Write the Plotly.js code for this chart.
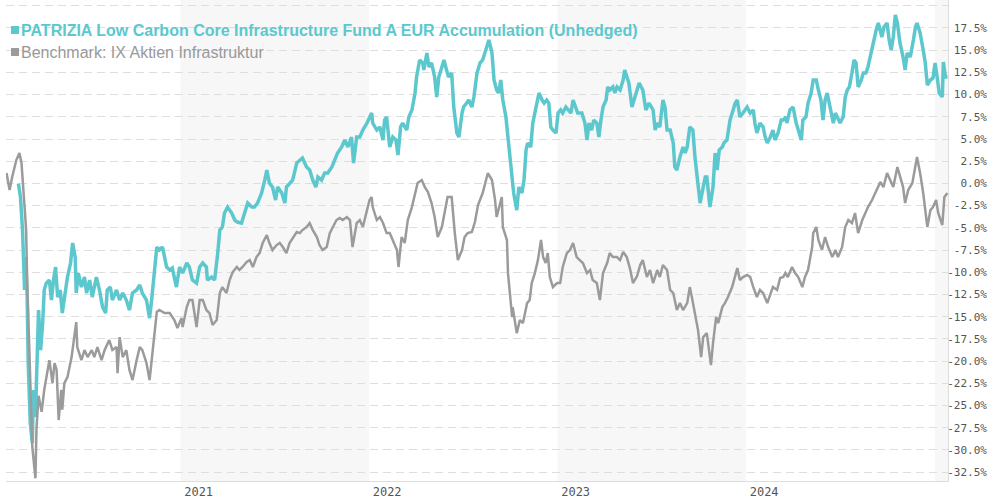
<!DOCTYPE html>
<html>
<head>
<meta charset="utf-8">
<script src="https://cdn.plot.ly/plotly-3.0.1.min.js"></script>
<style>html,body{margin:0;padding:0;background:#fff;}#chart{width:990px;height:500px;}</style>
</head>
<body>
<div id="chart"></div>
<script>
const fundName = "PATRIZIA Low Carbon Core Infrastructure Fund A EUR Accumulation (Unhedged)";
const benchName = "Benchmark: IX Aktien Infrastruktur";

const fundDates = [
"2020-02-22","2020-02-26","2020-03-01","2020-03-03","2020-03-05","2020-03-07","2020-03-10","2020-03-12","2020-03-16","2020-03-20",
"2020-03-22","2020-03-26","2020-03-30","2020-04-01","2020-04-05","2020-04-09","2020-04-12","2020-04-16","2020-04-22","2020-04-26",
"2020-04-30","2020-05-04","2020-05-08","2020-05-13","2020-05-17","2020-05-23","2020-05-27","2020-06-02","2020-06-06","2020-06-11",
"2020-06-13","2020-06-17","2020-06-23","2020-06-29","2020-07-03","2020-07-09","2020-07-14","2020-07-22","2020-07-28","2020-08-03",
"2020-08-09","2020-08-12","2020-08-18","2020-08-22","2020-08-30","2020-09-05","2020-09-11","2020-09-18","2020-09-24","2020-09-30",
"2020-10-08","2020-10-14","2020-10-19","2020-10-27","2020-11-02","2020-11-06","2020-11-10","2020-11-12","2020-11-16","2020-11-21",
"2020-11-27","2020-12-05","2020-12-11","2020-12-16","2020-12-24","2020-12-30","2021-01-05","2021-01-13","2021-01-18","2021-01-24",
"2021-02-01","2021-02-07","2021-02-13","2021-02-20","2021-02-22","2021-03-02","2021-03-08","2021-03-14","2021-03-18","2021-03-23",
"2021-03-27","2021-04-02","2021-04-10","2021-04-16","2021-04-21","2021-04-29","2021-05-05","2021-05-11","2021-05-19","2021-05-24",
"2021-05-30","2021-06-07","2021-06-13","2021-06-17","2021-06-22","2021-06-28","2021-07-04","2021-07-08","2021-07-16","2021-07-22",
"2021-07-25","2021-07-31","2021-08-06","2021-08-14","2021-08-20","2021-08-25","2021-09-02","2021-09-08","2021-09-14","2021-09-20",
"2021-09-24","2021-10-01","2021-10-07","2021-10-13","2021-10-21","2021-10-26","2021-11-01","2021-11-09","2021-11-15","2021-11-21",
"2021-11-28","2021-12-02","2021-12-08","2021-12-14","2021-12-20","2021-12-28","2021-12-31","2022-01-06","2022-01-08","2022-01-16",
"2022-01-22","2022-01-28","2022-01-31","2022-02-04","2022-02-10","2022-02-16","2022-02-22","2022-02-26","2022-03-03","2022-03-07",
"2022-03-15","2022-03-19","2022-03-25","2022-03-31","2022-04-03","2022-04-09","2022-04-15","2022-04-17","2022-04-23","2022-04-27",
"2022-05-02","2022-05-08","2022-05-12","2022-05-16","2022-05-22","2022-05-26","2022-05-31","2022-06-04","2022-06-10","2022-06-14",
"2022-06-20","2022-06-24","2022-06-30","2022-07-03","2022-07-09","2022-07-13","2022-07-19","2022-07-23","2022-07-29","2022-08-04",
"2022-08-09","2022-08-13","2022-08-17","2022-08-21","2022-08-27","2022-08-31","2022-09-05","2022-09-09","2022-09-13","2022-09-17",
"2022-09-23","2022-09-27","2022-10-02","2022-10-06","2022-10-08","2022-10-14","2022-10-18","2022-10-24","2022-10-28","2022-11-01",
"2022-11-04","2022-11-10","2022-11-14","2022-11-18","2022-11-22","2022-11-26","2022-12-02","2022-12-06","2022-12-11","2022-12-15",
"2022-12-19","2022-12-23","2022-12-29","2023-01-02","2023-01-07","2023-01-11","2023-01-17","2023-01-21","2023-01-27","2023-01-31",
"2023-02-05","2023-02-09","2023-02-17","2023-02-23","2023-02-27","2023-03-03","2023-03-08","2023-03-12","2023-03-18","2023-03-22",
"2023-03-26","2023-03-30","2023-04-05","2023-04-08","2023-04-12","2023-04-18","2023-04-22","2023-04-26","2023-05-02","2023-05-08",
"2023-05-11","2023-05-15","2023-05-19","2023-05-25","2023-05-29","2023-06-02","2023-06-08","2023-06-15","2023-06-21","2023-06-27",
"2023-07-05","2023-07-09","2023-07-13","2023-07-18","2023-07-24","2023-07-28","2023-08-01","2023-08-07","2023-08-13","2023-08-16",
"2023-08-20","2023-08-26","2023-09-01","2023-09-05","2023-09-09","2023-09-14","2023-09-20","2023-09-24","2023-09-28","2023-09-30",
"2023-10-04","2023-10-10","2023-10-14","2023-10-17","2023-10-23","2023-10-29","2023-11-02","2023-11-06","2023-11-10","2023-11-16",
"2023-11-19","2023-11-25","2023-12-01","2023-12-07","2023-12-11","2023-12-15","2023-12-20","2023-12-26","2024-01-03","2024-01-09",
"2024-01-15","2024-01-18","2024-01-22","2024-01-28","2024-02-03","2024-02-07","2024-02-11","2024-02-17","2024-02-22","2024-02-26",
"2024-03-03","2024-03-09","2024-03-13","2024-03-18","2024-03-20","2024-03-26","2024-04-01","2024-04-07","2024-04-11","2024-04-17",
"2024-04-20","2024-04-26","2024-04-30","2024-05-06","2024-05-10","2024-05-16","2024-05-20","2024-05-25","2024-05-29","2024-06-02",
"2024-06-06","2024-06-12","2024-06-18","2024-06-22","2024-06-25","2024-07-01","2024-07-07","2024-07-11","2024-07-15","2024-07-19",
"2024-07-24","2024-07-28","2024-08-01","2024-08-05","2024-08-11","2024-08-15","2024-08-20","2024-08-24","2024-08-30","2024-09-03",
"2024-09-09","2024-09-13","2024-09-17","2024-09-20","2024-09-24","2024-09-30","2024-10-04","2024-10-08","2024-10-12","2024-10-16",
"2024-10-20","2024-10-25","2024-10-31","2024-11-04","2024-11-08","2024-11-14","2024-11-20","2024-11-24","2024-11-27","2024-12-03",
"2024-12-09","2024-12-13","2024-12-17","2024-12-23","2024-12-28","2025-01-01","2025-01-05","2025-01-09","2025-01-15","2025-01-17",
"2025-01-21","2025-01-25"
];
const fundValues = [
0,-1.53,-5.25,-8.96,-12.0,-8.29,-12.79,-20.22,-26.98,-29.23,
-23.26,-26.30,-17.97,-14.26,-18.76,-15.72,-12.0,-11.22,-10.88,-13.13,
-10.88,-9.41,-12.79,-12.0,-14.59,-12.34,-10.54,-8.96,-6.71,-8.29,
-12.34,-10.09,-11.67,-10.54,-12.34,-10.88,-12.79,-10.54,-12.0,-13.92,
-14.59,-12.0,-11.67,-13.13,-12.0,-13.13,-12.34,-13.13,-14.26,-12.34,
-12.0,-11.44,-12.34,-13.13,-15.16,-13.13,-10.88,-8.96,-7.16,-7.50,
-7.16,-9.41,-9.75,-9.53,-11.67,-9.41,-10.09,-8.96,-9.41,-10.88,
-11.22,-9.41,-8.96,-9.41,-10.88,-10.54,-10.88,-7.84,-5.25,-4.91,
-3.33,-2.66,-3.33,-4.12,-4.35,-4.46,-3.33,-2.21,-2.66,-2.66,
-2.21,-1.08,0.38,1.51,0.05,-0.41,-1.87,-0.41,-1.08,-2.21,
-0.41,0.05,0.38,2.30,2.63,2.86,1.85,1.51,0.38,-0.41,
0.72,0.38,1.17,1.17,1.85,2.63,3.42,4.10,4.89,4.10,
5.22,2.30,5.22,5.22,6.01,6.80,7.14,7.93,6.80,6.01,
6.35,4.89,7.14,7.48,4.10,5.22,4.89,3.20,6.35,6.80,
6.01,7.48,8.27,10.18,11.98,13.90,13.56,12.77,14.68,13.11,
13.56,11.98,9.73,11.98,13.11,13.90,12.77,11.98,12.43,8.60,
5.68,5.22,7.93,8.60,9.05,9.39,8.60,9.73,12.43,13.56,
13.90,14.68,15.36,16.15,14.68,11.64,10.52,10.18,11.64,9.39,
7.48,4.89,1.85,0.05,-1.08,-3.0,-0.41,-1.08,0.38,3.76,
4.55,4.10,6.80,7.93,9.39,10.18,9.39,9.05,9.39,9.05,
6.35,6.01,5.68,7.93,8.27,7.93,8.60,8.27,7.93,9.39,
8.60,7.93,7.93,6.80,4.89,6.80,6.01,7.14,6.80,5.22,
7.14,8.60,9.39,10.86,10.52,10.86,10.18,10.86,10.52,11.64,
12.77,11.98,11.31,8.60,9.39,10.18,11.31,10.52,8.27,9.05,
8.27,6.01,6.80,6.35,9.39,8.60,6.01,6.01,4.55,1.85,
1.51,2.97,4.10,3.42,4.10,6.35,6.01,2.97,0.72,-0.41,
-2.21,-0.41,0.72,0.72,-2.66,-0.41,3.42,1.51,3.76,4.10,
4.55,4.89,7.14,8.27,9.05,9.39,7.48,7.93,8.60,7.93,
8.27,6.80,5.68,6.80,6.35,5.22,4.55,5.22,6.01,4.89,
5.68,7.14,7.14,7.48,6.80,8.27,8.60,6.80,6.01,4.89,
7.14,7.48,9.05,10.18,11.64,11.64,10.52,9.39,7.14,9.39,
10.18,8.60,6.80,7.93,7.48,6.80,7.48,9.73,10.52,10.86,
12.43,13.90,13.56,10.86,11.64,12.43,12.43,13.11,14.68,15.81,
17.27,18.06,17.27,16.49,17.61,18.06,16.15,15.02,16.49,18.96,
18.06,15.81,14.23,12.77,14.68,14.23,16.15,17.61,18.06,16.94,
15.02,13.56,11.08,11.64,11.87,13.56,11.98,10.18,9.73,13.67,
11.98,11.98
];

const benchDates = [
"2020-01-30","2020-02-05","2020-02-10","2020-02-18","2020-02-24","2020-02-28","2020-03-05","2020-03-08","2020-03-10","2020-03-14",
"2020-03-18","2020-03-20","2020-03-26","2020-03-28","2020-04-01","2020-04-07","2020-04-12","2020-04-18","2020-04-22","2020-04-28",
"2020-05-02","2020-05-06","2020-05-10","2020-05-15","2020-05-17","2020-05-21","2020-05-27","2020-06-04","2020-06-10","2020-06-13",
"2020-06-15","2020-06-23","2020-06-29","2020-07-05","2020-07-13","2020-07-18","2020-07-24","2020-08-01","2020-08-07","2020-08-16",
"2020-08-22","2020-08-30","2020-09-01","2020-09-05","2020-09-11","2020-09-18","2020-09-24","2020-09-30","2020-10-08","2020-10-14",
"2020-10-19","2020-10-27","2020-11-02","2020-11-08","2020-11-16","2020-11-21","2020-12-01","2020-12-11","2020-12-20","2020-12-26",
"2021-01-03","2021-01-05","2021-01-13","2021-01-18","2021-01-24","2021-02-01","2021-02-07","2021-02-13","2021-02-20","2021-02-26",
"2021-03-04","2021-03-12","2021-03-18","2021-03-23","2021-03-31","2021-04-06","2021-04-12","2021-04-20","2021-04-25","2021-05-01",
"2021-05-09","2021-05-15","2021-05-21","2021-05-28","2021-06-03","2021-06-09","2021-06-17","2021-06-22","2021-06-28","2021-07-06",
"2021-07-12","2021-07-18","2021-07-25","2021-07-31","2021-08-06","2021-08-14","2021-08-20","2021-08-25","2021-09-02","2021-09-08",
"2021-09-14","2021-09-22","2021-09-27","2021-10-03","2021-10-11","2021-10-17","2021-10-23","2021-10-30","2021-11-05","2021-11-11",
"2021-11-19","2021-11-25","2021-11-30","2021-12-08","2021-12-14","2021-12-20","2021-12-28","2022-01-02","2022-01-06","2022-01-08",
"2022-01-16","2022-01-22","2022-01-28","2022-02-04","2022-02-10","2022-02-16","2022-02-24","2022-02-27","2022-03-05","2022-03-11",
"2022-03-17","2022-03-25","2022-03-31","2022-04-05","2022-04-13","2022-04-19","2022-04-25","2022-05-02","2022-05-08","2022-05-14",
"2022-05-22","2022-05-28","2022-06-02","2022-06-10","2022-06-16","2022-06-22","2022-06-30","2022-07-05","2022-07-11","2022-07-19",
"2022-07-25","2022-07-31","2022-08-04","2022-08-09","2022-08-17","2022-08-19","2022-08-27","2022-09-02","2022-09-05","2022-09-11",
"2022-09-15","2022-09-17","2022-09-25","2022-09-27","2022-10-01","2022-10-05","2022-10-06","2022-10-14","2022-10-20","2022-10-26",
"2022-11-03","2022-11-08","2022-11-12","2022-11-18","2022-11-24","2022-11-30","2022-12-04","2022-12-09","2022-12-13","2022-12-17",
"2022-12-23","2022-12-31","2023-01-06","2023-01-11","2023-01-19","2023-01-25","2023-01-31","2023-02-07","2023-02-13","2023-02-19",
"2023-02-27","2023-03-05","2023-03-10","2023-03-18","2023-03-24","2023-03-30","2023-04-07","2023-04-12","2023-04-18","2023-04-26",
"2023-05-02","2023-05-08","2023-05-15","2023-05-21","2023-05-27","2023-06-04","2023-06-10","2023-06-15","2023-06-23","2023-06-29",
"2023-07-05","2023-07-13","2023-07-18","2023-07-24","2023-08-01","2023-08-07","2023-08-13","2023-08-20","2023-08-26","2023-09-01",
"2023-09-09","2023-09-14","2023-09-18","2023-09-24","2023-09-30","2023-10-06","2023-10-10","2023-10-17","2023-10-21","2023-10-25",
"2023-10-29","2023-11-04","2023-11-08","2023-11-16","2023-11-21","2023-11-27","2023-12-05","2023-12-11","2023-12-15","2023-12-20",
"2023-12-26","2024-01-03","2024-01-09","2024-01-15","2024-01-22","2024-01-28","2024-02-03","2024-02-11","2024-02-17","2024-02-22",
"2024-03-01","2024-03-07","2024-03-13","2024-03-17","2024-03-22","2024-03-30","2024-04-05","2024-04-11","2024-04-19","2024-04-24",
"2024-04-30","2024-05-08","2024-05-10","2024-05-16","2024-05-20","2024-05-27","2024-06-02","2024-06-08","2024-06-16","2024-06-22",
"2024-06-27","2024-07-05","2024-07-11","2024-07-17","2024-07-24","2024-07-30","2024-08-05","2024-08-13","2024-08-19","2024-08-24",
"2024-09-01","2024-09-07","2024-09-13","2024-09-17","2024-09-23","2024-09-30","2024-10-06","2024-10-12","2024-10-20","2024-10-25",
"2024-10-31","2024-11-04","2024-11-10","2024-11-18","2024-11-24","2024-11-27","2024-12-03","2024-12-09","2024-12-17","2024-12-23",
"2024-12-28","2025-01-03","2025-01-07","2025-01-15","2025-01-19","2025-01-25"
];
const benchValues = [
1.17,-0.74,0.72,2.63,3.42,2.30,-2.66,-5.25,-10.88,-18.42,
-24.73,-29.68,-33.2,-27.62,-23.91,-25.71,-23.25,-21.0,-19.89,-22.48,
-20.22,-21.0,-26.64,-23.25,-25.47,-22.48,-21.81,-19.55,-16.51,-15.61,
-18.42,-19.89,-18.76,-19.55,-18.76,-19.55,-18.42,-19.89,-18.76,-17.64,
-18.76,-18.42,-21.36,-17.30,-19.55,-18.76,-21.0,-22.14,-19.89,-18.42,
-18.76,-20.22,-22.14,-18.98,-14.47,-14.25,-14.59,-14.59,-15.38,-16.28,
-15.16,-16.17,-13.92,-13.13,-13.13,-16.17,-13.13,-13.13,-14.25,-14.59,
-15.94,-15.38,-12.34,-11.67,-12.34,-10.88,-9.98,-9.41,-9.75,-9.41,
-8.85,-8.63,-9.41,-8.29,-7.84,-6.71,-5.81,-6.71,-7.50,-6.94,
-6.71,-7.16,-7.84,-6.71,-6.15,-5.47,-5.59,-5.25,-4.91,-4.46,
-5.25,-6.04,-6.94,-7.50,-7.16,-5.59,-4.91,-4.12,-3.90,-4.12,
-3.78,-4.12,-7.16,-4.46,-4.12,-4.91,-3.0,-1.87,-1.53,-2.66,
-4.12,-3.78,-4.46,-5.59,-5.59,-6.37,-7.50,-9.41,-6.04,-6.71,
-4.12,-2.66,-1.08,0.05,0.38,-0.41,-0.97,-2.21,-3.78,-6.04,
-4.91,-3.0,-1.53,-1.53,-5.59,-8.63,-7.50,-6.04,-5.59,-5.47,
-4.35,-2.43,-1.87,-1.08,0.72,1.17,0.38,-1.87,-3.78,-2.21,
-1.53,-4.91,-6.37,-10.09,-12.34,-15.04,-13.92,-16.85,-15.38,-15.72,
-13.47,-13.13,-11.22,-10.09,-8.63,-6.37,-8.29,-8.96,-7.84,-10.54,
-11.67,-11.22,-11.22,-9.41,-7.84,-7.50,-6.71,-8.29,-8.63,-8.96,
-10.09,-9.75,-10.88,-11.22,-13.13,-10.09,-8.96,-7.84,-8.29,-8.29,
-8.63,-7.72,-8.29,-9.53,-11.22,-10.43,-9.19,-8.63,-10.54,-9.75,
-11.22,-9.75,-10.54,-9.19,-9.75,-12.0,-12.34,-14.26,-13.47,-14.26,
-13.47,-11.67,-12.79,-14.59,-16.51,-19.55,-17.30,-16.85,-18.76,-20.45,
-17.97,-15.04,-15.72,-13.92,-13.47,-12.79,-11.67,-10.54,-9.53,-10.88,
-10.54,-10.31,-10.54,-11.67,-12.79,-12.0,-12.34,-13.47,-12.34,-11.67,
-12.0,-10.65,-10.54,-10.09,-10.54,-9.41,-10.09,-10.54,-11.67,-10.54,
-9.75,-7.16,-5.59,-4.91,-6.37,-7.50,-6.04,-7.16,-8.29,-7.50,
-8.29,-7.16,-4.91,-4.12,-4.46,-3.33,-5.59,-4.12,-3.33,-2.66,
-1.87,-1.08,-0.41,0.16,-0.41,1.17,0.38,-0.41,1.85,0.72,
-0.41,-2.21,-0.74,0.05,2.30,2.97,1.17,-1.08,-4.91,-3.0,
-2.66,-1.87,-3.33,-4.68,-1.53,-1.08
];

const yTickValues = [-32.5,-30,-27.5,-25,-22.5,-20,-17.5,-15,-12.5,-10,-7.5,-5,-2.5,0,2.5,5,7.5,10,12.5,15,17.5,20];
const yTickLabels = ["-32.5%","-30.0%","-27.5%","-25.0%","-22.5%","-20.0%","-17.5%","-15.0%","-12.5%","-10.0%","-7.5%","-5.0%","-2.5%","0.0%","2.5%","5.0%","7.5%","10.0%","12.5%","15.0%","17.5%",""];
const xTickDates = ["2021-02-05","2022-02-05","2023-02-05","2024-02-05"];
const xTickLabels = ["2021","2022","2023","2024"];
const shadedYears = [["2021-01-01","2022-01-01"],["2023-01-01","2024-01-01"],["2025-01-01","2025-01-26"]];

const TEAL = "#5cc8ce";
const GREY = "#9b9b9b";
const padLabel = s => s === "" ? "" : "\u00a0".repeat(Math.max(0, 6 - s.length)) + s;

const traces = [
  {x: fundDates, y: fundValues, type: "scatter", mode: "lines", name: fundName,
   line: {color: TEAL, width: 3.5}, hoverinfo: "skip"},
  {x: benchDates, y: benchValues, type: "scatter", mode: "lines", name: benchName,
   line: {color: GREY, width: 2.5}, hoverinfo: "skip"}
];

const shapes = shadedYears.map(r => ({
  type: "rect", xref: "x", yref: "paper", x0: r[0], x1: r[1], y0: 0, y1: 1,
  fillcolor: "#f7f7f7", line: {width: 0}, layer: "below"
}));
shapes.push(
  {type: "rect", xref: "paper", yref: "paper", xsizemode: "pixel", ysizemode: "pixel",
   xanchor: 0, yanchor: 1, x0: 5, x1: 13, y0: -26, y1: -34, fillcolor: TEAL, line: {width: 0}},
  {type: "rect", xref: "paper", yref: "paper", xsizemode: "pixel", ysizemode: "pixel",
   xanchor: 0, yanchor: 1, x0: 5, x1: 13, y0: -48, y1: -56, fillcolor: GREY, line: {width: 0}}
);

const layout = {
  width: 990, height: 500,
  margin: {l: 6, r: 42, t: 0, b: 19, pad: 0},
  paper_bgcolor: "#ffffff", plot_bgcolor: "#ffffff",
  showlegend: false,
  xaxis: {
    type: "date", range: ["2020-01-29", "2025-01-26"],
    showgrid: false, zeroline: false,
    tickvals: xTickDates, ticktext: xTickLabels, ticks: "",
    tickfont: {family: "DejaVu Sans Mono, monospace", size: 12, color: "#555"},
    showline: true, linecolor: "#dddddd", linewidth: 1
  },
  yaxis: {
    side: "right", range: [-33.5, 20.65],
    tickvals: yTickValues, ticktext: yTickLabels.map(padLabel), ticks: "",
    ticklabelstandoff: -4,
    tickfont: {family: "DejaVu Sans Mono, monospace", size: 11, color: "#555"},
    showgrid: true, gridcolor: "#dedede", gridwidth: 1, griddash: "8px,5px",
    zeroline: false, showline: true, linecolor: "#dddddd", linewidth: 1
  },
  shapes: shapes,
  annotations: [
    {xref: "paper", yref: "paper", x: 0, y: 1, xanchor: "left", yanchor: "middle",
     xshift: 13, yshift: -30, showarrow: false,
     text: "<b>" + fundName + "</b>",
     font: {family: "Liberation Sans, Arial, sans-serif", size: 16, color: TEAL}},
    {xref: "paper", yref: "paper", x: 0, y: 1, xanchor: "left", yanchor: "middle",
     xshift: 13, yshift: -52, showarrow: false,
     text: benchName,
     font: {family: "Liberation Sans, Arial, sans-serif", size: 16, color: "#999999"}}
  ]
};

Plotly.newPlot("chart", traces, layout, {displayModeBar: false, staticPlot: true});
</script>
</body>
</html>
